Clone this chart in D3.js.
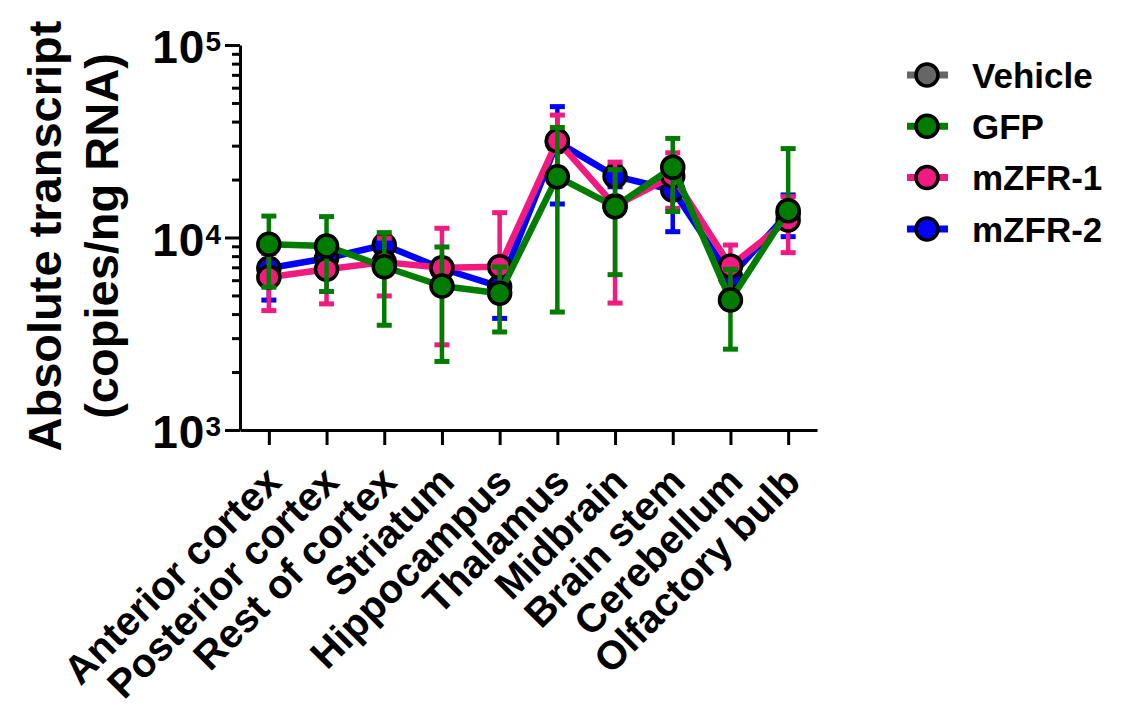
<!DOCTYPE html>
<html>
<head>
<meta charset="utf-8">
<script src="https://cdn.jsdelivr.net/npm/d3@7"></script>
<style>
  body { margin: 0; background: #fff; }
  text { font-family: Arial, "Liberation Sans", sans-serif; font-weight: bold; }
</style>
</head>
<body>
<div id="chart"></div>
<script>
// categories (brain regions)
const regions = ["Anterior cortex", "Posterior cortex", "Rest of cortex", "Striatum", "Hippocampus",
  "Thalamus", "Midbrain", "Brain stem", "Cerebellum", "Olfactory bulb"];

const groupNames = ["Vehicle", "GFP", "mZFR-1", "mZFR-2"];

// means and SD (copies/ng RNA)
const vehicleMean = [null, null, null, null, null, null, null, null, null, null];
const vehicleSD   = [null, null, null, null, null, null, null, null, null, null];
const gfpMean  = [9220, 9040, 7050, 5600, 5130, 20700, 14460, 23180, 4730, 13760];
const gfpSD    = [3700, 3800, 3550, 3330, 1900, 16600, 8050, 9540, 2100, 15200];
const zfr1Mean = [6210, 6840, 7450, 6970, 7050, 31840, 14600, 20860, 7110, 12320];
const zfr1SD   = [2040, 2320, 2480, 4200, 6410, 11410, 10035, 6680, 2030, 3980];
const zfr2Mean = [6920, 7800, 9140, 6900, 5550, 31390, 20840, 17650, 6250, 13370];
const zfr2SD   = [2190, 1200, 1000, 800, 1750, 16460, 2500, 6930, 500, 3270];

const yMajor = [1e3, 1e4, 1e5];

const colors = { "Vehicle": "#666666", "GFP": "#007d00", "mZFR-1": "#f2197f", "mZFR-2": "#0000ff" };

const series = [
  { name: "Vehicle", mean: vehicleMean, sd: vehicleSD },
  { name: "GFP", mean: gfpMean, sd: gfpSD },
  { name: "mZFR-1", mean: zfr1Mean, sd: zfr1SD },
  { name: "mZFR-2", mean: zfr2Mean, sd: zfr2SD }
];
// drawing order: blue under pink under green
const drawOrder = ["Vehicle", "mZFR-2", "mZFR-1", "GFP"];

const width = 1125, height = 711;
const svg = d3.select("#chart").append("svg")
  .attr("width", width).attr("height", height);

const x = d3.scalePoint().domain(regions).range([240, 817]).padding(0.5);
const y = d3.scaleLog().domain([1e3, 1e5]).range([430, 45]);

// minor ticks
const minorVals = [];
[1e3, 1e4].forEach(b => { for (let k = 2; k <= 9; k++) minorVals.push(b * k); });

svg.append("g")
  .attr("transform", "translate(240,0)")
  .call(d3.axisLeft(y).tickValues(minorVals).tickSize(8).tickSizeOuter(0).tickFormat(""))
  .call(g => g.select(".domain").remove())
  .call(g => g.selectAll("line").attr("stroke-width", 3));

const yAxisG = svg.append("g")
  .attr("transform", "translate(240,0)")
  .call(d3.axisLeft(y).tickValues(yMajor).tickSize(15).tickSizeOuter(0).tickPadding(3));
yAxisG.select(".domain").attr("stroke-width", 3);
yAxisG.selectAll("line").attr("stroke-width", 3);
yAxisG.selectAll(".tick text")
  .attr("font-size", 46).attr("fill", "#000").attr("dy", "0.39em")
  .attr("letter-spacing", 1)
  .text(null)
  .each(function(d) {
    const t = d3.select(this);
    t.append("tspan").text("10");
    t.append("tspan").attr("font-size", 28).attr("dy", -12).text(Math.round(Math.log10(d)));
  });

const xAxisG = svg.append("g")
  .attr("transform", "translate(0,430)")
  .call(d3.axisBottom(x).tickSize(15).tickSizeOuter(0));
xAxisG.select(".domain").attr("stroke-width", 3);
xAxisG.selectAll("line").attr("stroke-width", 3);
xAxisG.selectAll(".tick text")
  .attr("font-size", 40).attr("fill", "#000")
  .attr("text-anchor", "end")
  .attr("y", 0).attr("dy", "0.35em")
  .attr("transform", "translate(4,44) rotate(-45)");

// y title
const title = svg.append("text")
  .attr("transform", "translate(0,236) rotate(-90)")
  .attr("text-anchor", "middle").attr("font-size", 47);
title.append("tspan").attr("x", 0).attr("y", 61).text("Absolute transcript");
title.append("tspan").attr("x", 0).attr("y", 118).text("(copies/ng RNA)");

// plot series
drawOrder.forEach(name => {
  const s = series.find(d => d.name === name);
  const c = colors[name];
  const pts = regions.map((r, i) => ({ r, m: s.mean[i], sd: s.sd[i] })).filter(p => p.m != null);
  const g = svg.append("g");

  // error bars (lower half left out when it falls below the axis)
  pts.forEach(p => {
    const cx = x(p.r);
    const hi = p.m + p.sd, lo = p.m - p.sd;
    g.append("line").attr("x1", cx).attr("x2", cx)
      .attr("y1", y(p.m)).attr("y2", y(hi)).attr("stroke", c).attr("stroke-width", 4.5);
    g.append("line").attr("x1", cx - 7.5).attr("x2", cx + 7.5)
      .attr("y1", y(hi)).attr("y2", y(hi)).attr("stroke", c).attr("stroke-width", 5);
    if (lo >= 1e3) {
      g.append("line").attr("x1", cx).attr("x2", cx)
        .attr("y1", y(p.m)).attr("y2", y(lo)).attr("stroke", c).attr("stroke-width", 4.5);
      g.append("line").attr("x1", cx - 7.5).attr("x2", cx + 7.5)
        .attr("y1", y(lo)).attr("y2", y(lo)).attr("stroke", c).attr("stroke-width", 5);
    }
  });

  g.append("path").datum(pts)
    .attr("fill", "none").attr("stroke", c).attr("stroke-width", 6.5)
    .attr("stroke-linejoin", "round")
    .attr("d", d3.line().x(p => x(p.r)).y(p => y(p.m)));

  g.selectAll("circle").data(pts).join("circle")
    .attr("cx", p => x(p.r)).attr("cy", p => y(p.m)).attr("r", 11)
    .attr("fill", c).attr("stroke", "#000").attr("stroke-width", 3.5);
});

// legend
const leg = svg.append("g");
groupNames.forEach((name, i) => {
  const cy = 75 + i * 51.3;
  leg.append("line").attr("x1", 907).attr("x2", 948).attr("y1", cy).attr("y2", cy)
    .attr("stroke", colors[name]).attr("stroke-width", 7);
  leg.append("circle").attr("cx", 927).attr("cy", cy).attr("r", 11)
    .attr("fill", colors[name]).attr("stroke", "#000").attr("stroke-width", 3.5);
  leg.append("text").attr("x", 972).attr("y", cy).attr("dy", "0.36em")
    .attr("font-size", 35).text(name);
});
</script>
</body>
</html>
